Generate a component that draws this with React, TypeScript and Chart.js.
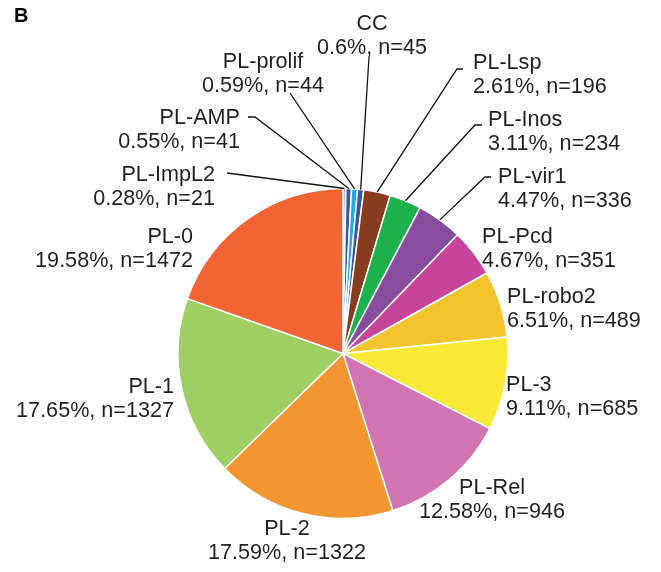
import React, { useEffect, useRef } from "react";
import { Chart, registerables } from "chart.js";

Chart.register(...registerables);

const categories = [
  "PL-ImpL2", "PL-AMP", "PL-prolif", "CC", "PL-Lsp", "PL-Inos", "PL-vir1",
  "PL-Pcd", "PL-robo2", "PL-3", "PL-Rel", "PL-2", "PL-1", "PL-0",
];
const counts = [21, 41, 44, 45, 196, 234, 336, 351, 489, 685, 946, 1322, 1327, 1472];
const percents = [0.28, 0.55, 0.59, 0.6, 2.61, 3.11, 4.47, 4.67, 6.51, 9.11, 12.58, 17.59, 17.65, 19.58];
const colors = [
  "#b4c0e4", "#3d55a5", "#1aaee5", "#3a56a6", "#873b1f", "#1db14b", "#874c9e",
  "#c6449a", "#f3c42d", "#f9ea35", "#d174b2", "#f39632", "#9fce63", "#f26434",
];

// label layout (text anchor, alignment, leader-line points before reaching the slice)
type P = [number, number];
const labelLayout: { x: number; y: number; align: CanvasTextAlign; line?: P[] }[] = [
  { x: 215, y: 181, align: "right", line: [[227, 173]] },
  { x: 240, y: 124, align: "right", line: [[248, 117], [255, 117]] },
  { x: 263, y: 68, align: "center", line: [[290, 93]] },
  { x: 372, y: 30, align: "center", line: [[369, 57]] },
  { x: 473, y: 69, align: "left", line: [[463, 69], [457, 69]] },
  { x: 488, y: 126, align: "left", line: [[482, 125], [475, 125]] },
  { x: 498, y: 183, align: "left", line: [[491, 177], [485, 177]] },
  { x: 482, y: 243, align: "left" },
  { x: 507, y: 303, align: "left" },
  { x: 506, y: 391, align: "left" },
  { x: 492, y: 494, align: "center" },
  { x: 287, y: 535, align: "center" },
  { x: 174, y: 393, align: "right" },
  { x: 193, y: 243, align: "right" },
];

const FONT = "21.6px 'Liberation Sans', Arial, sans-serif";
const TEXT_COLOR = "#231f20";

const labelPlugin = {
  id: "pieLabels",
  afterDatasetsDraw(chart: any) {
    const ctx = chart.ctx as CanvasRenderingContext2D;
    const meta = chart.getDatasetMeta(0);
    ctx.save();
    // panel letter
    ctx.font = "bold 20px 'Liberation Sans', Arial, sans-serif";
    ctx.fillStyle = "#000";
    ctx.textAlign = "left";
    ctx.textBaseline = "alphabetic";
    ctx.fillText("B", 14, 22);

    meta.data.forEach((arc: any, i: number) => {
      const lay = labelLayout[i];
      const { x, y, startAngle, endAngle, outerRadius } = arc.getProps(
        ["x", "y", "startAngle", "endAngle", "outerRadius"],
        true
      );
      const mid = (startAngle + endAngle) / 2;
      if (lay.line) {
        const ex = x + Math.cos(mid) * outerRadius;
        const ey = y + Math.sin(mid) * outerRadius;
        ctx.beginPath();
        ctx.strokeStyle = "#111";
        ctx.lineWidth = 1.3;
        lay.line.forEach((p, k) => (k === 0 ? ctx.moveTo(p[0], p[1]) : ctx.lineTo(p[0], p[1])));
        ctx.lineTo(ex, ey);
        ctx.stroke();
      }
      ctx.font = FONT;
      ctx.fillStyle = TEXT_COLOR;
      ctx.textAlign = lay.align;
      ctx.fillText(categories[i], lay.x, lay.y);
      ctx.fillText(`${percents[i]}%, n=${counts[i]}`, lay.x, lay.y + 24);
    });
    ctx.restore();
  },
};

export default function App() {
  const ref = useRef<HTMLCanvasElement | null>(null);
  useEffect(() => {
    if (!ref.current) return;
    const chart = new Chart(ref.current, {
      type: "pie",
      data: {
        labels: categories,
        datasets: [
          {
            data: counts,
            backgroundColor: colors,
            borderColor: "#ffffff",
            borderWidth: 1.5,
            hoverBorderWidth: 1.5,
            hoverOffset: 0,
            offset: 0,
          },
        ],
      },
      options: {
        animation: false,
        responsive: true,
        maintainAspectRatio: false,
        layout: { padding: { left: 177.25, top: 187.75, right: 152.25, bottom: 52.75 } },
        plugins: {
          legend: { display: false },
          tooltip: { enabled: false },
          title: { display: false },
        },
      },
      plugins: [labelPlugin],
    });
    return () => chart.destroy();
  }, []);
  return (
    <div style={{ position: "fixed", left: 0, top: 0, width: 661, height: 572, background: "#fff" }}>
      <canvas ref={ref} />
    </div>
  );
}
